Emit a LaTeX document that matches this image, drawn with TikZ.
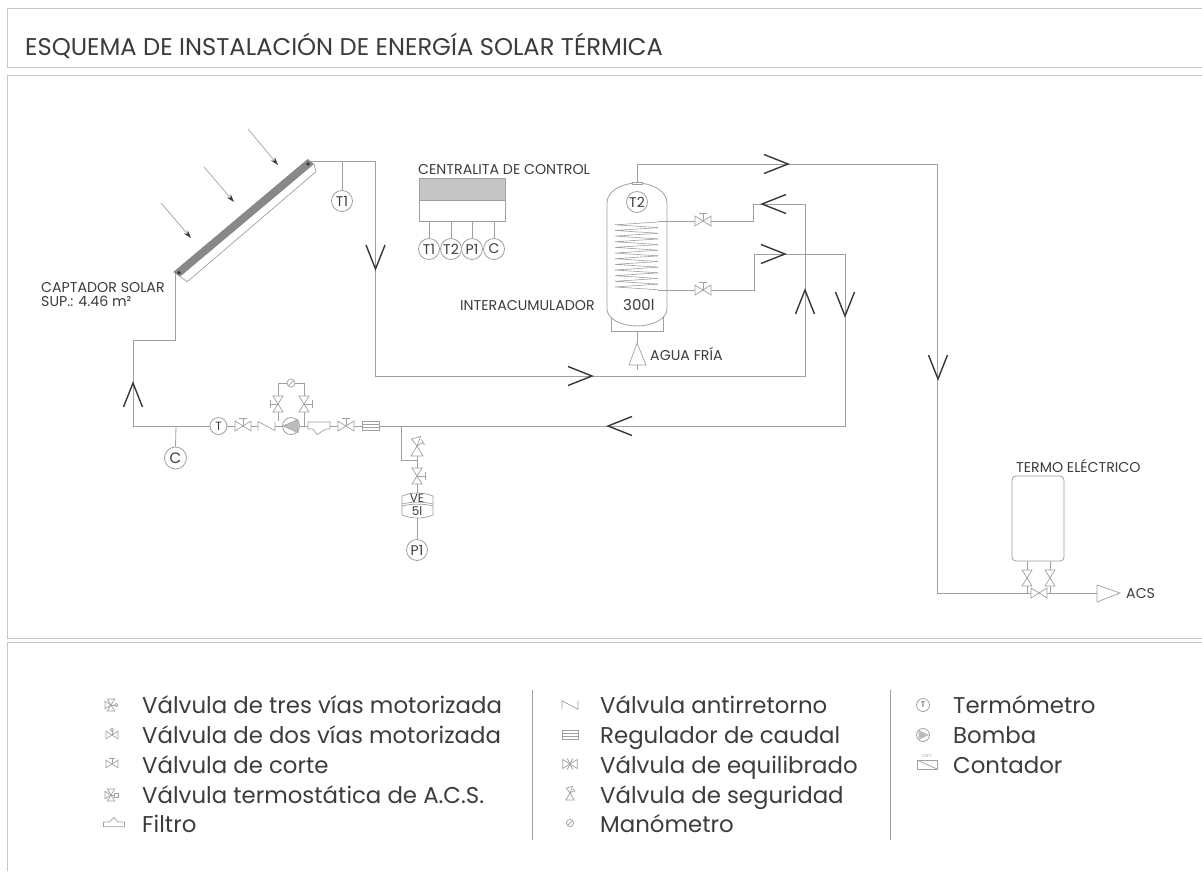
\documentclass[tikz,border=0pt]{standalone}
\usepackage{fontspec}
\setmainfont{Poppins}
\usetikzlibrary{arrows.meta}
\definecolor{frm}{HTML}{C6C6C6}
\definecolor{lin}{HTML}{A0A0A0}
\definecolor{dk}{HTML}{383838}
\definecolor{txt}{HTML}{3C3C3C}
\tikzset{
  x=1pt,y=-1pt,
  frame line/.style={draw=frm,line width=1pt},
  pipe/.style={draw=lin,line width=.8pt,line join=miter},
  sym/.style={draw=lin,line width=.7pt,fill=white,line join=miter},
  lab/.style={anchor=base west,inner sep=0pt,text=txt,font=\fontsize{14.2}{14.2}\selectfont},
  leg/.style={anchor=base west,inner sep=0pt,text=txt,font=\fontsize{22.85}{22.85}\selectfont},
  gauge/.style={circle,draw=lin,line width=.8pt,fill=white,inner sep=0pt,minimum size=21pt,text=txt,font=\fontsize{14}{14}\selectfont},
  chevron/.pic={\draw[draw=dk,line width=1.4pt,line join=miter] (-24,-9.5)--(0,0)--(-24,9.5);},
  bowtie/.pic={\draw[sym] (-8,-5)--(8,5)--(8,-5)--(-8,5)--cycle;},
  gatevalve/.pic={\draw[sym] (0,0)--(0,-8) (-4,-8)--(4,-8);\draw[sym] (-8,-5)--(8,5)--(8,-5)--(-8,5)--cycle;},
  checkvalve/.pic={\draw[draw=lin,line width=.7pt] (-8.5,4.5)--(-8.5,-4.5)--(8.5,4.5)--(8.5,-4.5);},
  safety/.pic={\draw[sym] (0,0)--(-6,10)--(6,10)--cycle;\draw[sym] (0,0)--(-5.5,-7)--(3.5,-9.5)--cycle;\draw[sym] (0,0)--(6,-3.5) (4.5,-6.5)--(7.5,-1);},
  threeway/.pic={\draw[sym] (-8,-5)--(0,0)--(-8,5)--cycle;\draw[sym] (-5,-8)--(5,-8)--(0,0)--cycle;\draw[sym] (-5,8)--(5,8)--(0,0)--cycle;\draw[sym] (0,0)--(5,0);\draw[sym] (7,0) circle (2.2);},
  twoway/.pic={\draw[sym] (-8,-5)--(8,5)--(8,-5)--(-8,5)--cycle;\draw[sym] (0,0)--(0,-5);\draw[sym] (0,-7) circle (2.2);},
  thermo/.pic={\draw[sym] (-8,-5)--(0,0)--(-8,5)--cycle;\draw[sym] (-5,-8)--(5,-8)--(0,0)--cycle;\draw[sym] (-5,8)--(5,8)--(0,0)--cycle;\draw[sym] (0,0)--(5,0);\draw[sym] (5,-2.5) rectangle (10,2.5);},
  filterp/.pic={\draw[sym] (-11,-3.5)--(11,-3.5)--(11,3.5)--(7,3.5)--(-2,9)--(-6,3.5)--(-11,3.5)--cycle;},
  filterleg/.pic={\draw[sym] (-11,5)--(-11,0)--(-5,0)--(0,-5)--(4,0)--(11,0)--(11,5)--cycle;},
  regul/.pic={\draw[sym] (-8.5,-4.5) rectangle (8.5,4.5);\draw[sym] (-8.5,-1.5)--(8.5,-1.5) (-8.5,1.5)--(8.5,1.5);},
  balance/.pic={\draw[sym] (-8,-5)--(8,5)--(8,-5)--(-8,5)--cycle;\draw[sym] (-3,-6)--(0,0)--(3,-6) (-3,6)--(0,0)--(3,6);},
  mano/.pic={\draw[sym] (0,0) circle (4);\draw[sym] (-2.8,2.8)--(2.8,-2.8);},
}
\begin{document}
\begin{tikzpicture}
\useasboundingbox (0,0) rectangle (1202,871);
\fill[white] (0,0) rectangle (1202,871);
% frames
\draw[frame line] (1202,8)--(7,8)--(7,67)--(1202,67);
\draw[frame line] (1202,75)--(7,75)--(7,638)--(1202,638);
\draw[frame line] (1202,642)--(7,642)--(7,871);
\node[anchor=base west,inner sep=0pt,text=txt,font=\fontsize{24.2}{24.2}\selectfont] (title) at (25,55) {ESQUEMA DE INSTALACIÓN DE ENERGÍA SOLAR TÉRMICA};

% junction coordinates
\coordinate (cBL) at (175,273);
\coordinate (cTR) at (310,161);
\coordinate (a1) at (175,340);
\coordinate (a2) at (133,340);
\coordinate (a3) at (133,426);
\coordinate (jC) at (176,426);
\coordinate (b1) at (375,161);
\coordinate (jT1) at (342,161);
\coordinate (b2) at (375,376);
\coordinate (b3) at (805,376);
\coordinate (b4) at (805,204);
\coordinate (b5) at (753,204);
\coordinate (b6) at (753,221);
\coordinate (b7) at (658,221);
\coordinate (d1) at (845,426);
\coordinate (d2) at (845,254);
\coordinate (d3) at (754,254);
\coordinate (d4) at (754,290);
\coordinate (d5) at (658,290);
\coordinate (jE) at (401,426);
\coordinate (e1) at (401,460);
\coordinate (e2) at (417,460);
\coordinate (e3) at (417,493);
\coordinate (e4) at (417,517);
\coordinate (cv1) at (258,426);
\coordinate (cv2) at (275,426);
\coordinate (p0) at (304,426);
\coordinate (p1) at (304,383);
\coordinate (p2) at (278,383);
\coordinate (p3) at (278,421);
\coordinate (tk) at (637,182);
\coordinate (f1) at (637,164);
\coordinate (f2) at (937,164);
\coordinate (f3) at (937,593);
\coordinate (acs) at (1097,593);
\coordinate (tb1) at (1027,561);
\coordinate (tb2) at (1050,561);
\coordinate (tj1) at (1027,593);
\coordinate (tj2) at (1050,593);

% gauges
\node[gauge] (gT1) at (342,201) {T1};
\node[gauge,minimum size=22pt,font=\fontsize{15}{15}\selectfont] (gC) at (175.5,458) {C};
\node[gauge,minimum size=17pt,font=\fontsize{12}{12}\selectfont] (gT) at (218.5,426) {T};
\node[gauge,minimum size=17pt] (pump) at (291,426) {};
\node[gauge] (gP1) at (417,550) {P1};
\node[gauge] (c1) at (429,249) {T1};
\node[gauge] (c2) at (451,249) {T2};
\node[gauge] (c3) at (472,249) {P1};
\node[gauge] (c4) at (494,249) {C};

% control unit
\node[draw=lin,line width=.8pt,fill=lin!60,minimum width=86pt,minimum height=22pt,inner sep=0pt] (ctlTop) at (462,189) {};
\node[draw=lin,line width=.8pt,fill=white,minimum width=86pt,minimum height=21pt,inner sep=0pt] (ctlBot) at (462,210.5) {};
\draw[pipe] (c1.north)--(c1.north|-ctlBot.south);
\draw[pipe] (c2.north)--(c2.north|-ctlBot.south);
\draw[pipe] (c3.north)--(c3.north|-ctlBot.south);
\draw[pipe] (c4.north)--(c4.north|-ctlBot.south);
\node[lab] (lCtl) at (418,174) {CENTRALITA DE CONTROL};

% pipes
\draw[pipe] (cBL)--(a1)--(a2)--(a3)--(gT.west);
\draw[pipe] (jC)--(gC.north);
\draw[pipe] (gT.east)--(cv1);
\draw[pipe] (cv2)--(pump.west);
\draw[pipe] (pump.east)--(d1)--(d2)--(d3)--(d4)--(d5);
\draw[pipe] (cTR)--(b1)--(b2)--(b3)--(b4)--(b5)--(b6)--(b7);
\draw[pipe] (jT1)--(gT1.north);
\draw[pipe] (jE)--(e1)--(e2)--(e3);
\draw[pipe] (e2)--(417,440);
\draw[pipe] (e4)--(gP1.north);
\draw[pipe] (p0)--(p1)--(p2)--(p3);
\draw[pipe] (tk)--(f1)--(f2)--(f3)--(acs);
\draw[pipe] (tb1)--(tj1);
\draw[pipe] (tb2)--(tj2);

% pump triangle
\fill[lin!70] (283,426)--(298,419.5)--(298,432.5)--cycle;
\draw[draw=lin,line width=.6pt] (283,426)--(298,419.5)--(298,432.5)--cycle;

% pipeline fittings
\pic at (243,426) {gatevalve};
\pic at (266.5,426) {checkvalve};
\pic at (319,425.5) {filterp};
\pic at (346,426) {gatevalve};
\pic at (370.5,425.5) {regul};
\pic[rotate=90] at (278,404) {gatevalve};
\pic[rotate=-90] at (304,404) {gatevalve};
\pic at (291,383) {mano};
\pic at (417,446) {safety};
\pic[rotate=-90] at (417,476) {gatevalve};
\pic at (703,221) {gatevalve};
\pic at (703,290) {gatevalve};

% expansion vessel
\draw[sym] (402,496) .. controls (412,492) and (423,492) .. (433,496) -- (433,515) .. controls (423,519) and (412,519) .. (402,515) -- cycle;
\draw[sym] (402,504) .. controls (412,501.5) and (423,501.5) .. (433,504);
\draw[sym,fill=none] (402,506) .. controls (412,503.5) and (423,503.5) .. (433,506);
\node[inner sep=0pt,text=txt,font=\fontsize{12}{12}\selectfont] (lVE) at (417,498) {VE};
\node[inner sep=0pt,text=txt,font=\fontsize{12}{12}\selectfont] (l5) at (417,511) {5l};

% collector
\draw[sym] (314,164)--(316,171.7)--(187.3,281.7)--(180,276.7);
\fill[lin!85!black] (307.7,159)--(314,164)--(180,276.7)--(173.3,272)--cycle;
\fill[dk] (179,272.7) circle (1.8);
\fill[dk] (308,164) circle (1.8);
\foreach \a/\b/\c/\d in {161/203/191/238,204/167/234/202,248/129/278/165}
  \draw[draw=lin,line width=.7pt,-{Stealth[length=8pt,width=5pt,color=dk]}] (\a,\b)--(\c,\d);
\node[lab] (lCap) at (41,292) {CAPTADOR SOLAR};
\node[lab] (lSup) at (41,306) {SUP.: 4.46 m²};

% storage tank
\draw[pipe,fill=white] (611,317)--(611,331)--(663,331)--(663,317);
\draw[pipe] (637,331)--(637,343);
\draw[sym] (637,343)--(629,365)--(646,365)--cycle;
\draw[pipe] (637,365)--(637,370);
\draw[draw=lin,line width=.8pt] (607,203) .. controls (607,191) and (622,183) .. (637,183) .. controls (652,183) and (667,191) .. (667,203) -- (667,309) .. controls (667,319) and (652,326) .. (637,326) .. controls (622,326) and (607,319) .. (607,309) -- cycle;
\draw[sym] (632,182) rectangle (642,184.5);
\node[gauge] (gT2) at (637,202) {T2};
\foreach \i in {0,...,11}
  \draw[draw=lin,line width=.6pt] (658,{222+5.65*\i})--(615,{224.8+5.65*\i})--(658,{227.6+5.65*\i});
\node[lab] (lInt) at (460,310) {INTERACUMULADOR};
\node[lab,font=\fontsize{15}{15}\selectfont] (l300) at (623,310) {300l};
\node[lab] (lAgua) at (650,360) {AGUA FRÍA};

% electric heater
\node[draw=lin,line width=.8pt,rounded corners=4pt,fill=white,minimum width=52pt,minimum height=85pt,inner sep=0pt] (termo) at (1038,518.5) {};
\pic[rotate=90] at (1027,578) {bowtie};
\pic[rotate=90] at (1050,578) {bowtie};
\pic at (1039,593) {bowtie};
\draw[sym] (acs)--(1097,585)--(1120,593)--(1097,602)--cycle;
\node[lab] (lTer) at (1016,472) {TERMO ELÉCTRICO};
\node[lab] (lAcs) at (1126,598) {ACS};

% flow chevrons
\pic[rotate=-90] at (375.5,269) {chevron};
\pic at (592,376) {chevron};
\pic[rotate=90] at (805,290) {chevron};
\pic[rotate=-90] at (845,316) {chevron};
\pic[rotate=180] at (608,426) {chevron};
\pic at (788,164) {chevron};
\pic at (785,254) {chevron};
\pic[rotate=180] at (762,204) {chevron};
\pic[rotate=-90] at (938,379) {chevron};
\pic[rotate=90] at (133,383) {chevron};

% legend dividers
\coordinate (dv1t) at (532,690);\coordinate (dv1b) at (532,840);
\coordinate (dv2t) at (890,690);\coordinate (dv2b) at (890,840);
\draw[draw=lin,line width=.8pt] (dv1t)--(dv1b);
\draw[draw=lin,line width=.8pt] (dv2t)--(dv2b);

% legend column 1
\pic[scale=.75] at (111,705) {threeway};
\pic[scale=.75] at (112,735) {twoway};
\pic[scale=.75] at (112,764) {gatevalve};
\pic[scale=.75] at (111,795) {thermo};
\pic[scale=.95] at (114,822) {filterleg};
\node[leg] (t1) at (142,713) {Válvula de tres vías motorizada};
\node[leg] (t2) at (142,743) {Válvula de dos vías motorizada};
\node[leg] (t3) at (142,773) {Válvula de corte};
\node[leg] (t4) at (142,803) {Válvula termostática de A.C.S.};
\node[leg] (t5) at (142,832) {Filtro};

% legend column 2
\pic[scale=.95] at (570,705) {checkvalve};
\pic[scale=.95] at (570,735) {regul};
\pic[scale=.9] at (570,764) {balance};
\pic[scale=.7] at (570,793) {safety};
\pic[scale=.9] at (570,823) {mano};
\node[leg] (m1) at (600,713) {Válvula antirretorno};
\node[leg] (m2) at (600,743) {Regulador de caudal};
\node[leg] (m3) at (600,773) {Válvula de equilibrado};
\node[leg] (m4) at (600,803) {Válvula de seguridad};
\node[leg] (m5) at (600,832) {Manómetro};

% legend column 3
\node[gauge,minimum size=13pt,font=\fontsize{8}{8}\selectfont] (s1) at (923,705) {T};
\node[gauge,minimum size=13pt] (s2) at (923,735) {};
\fill[lin!70] (918.5,730)--(929,735)--(918.5,740)--cycle;
\draw[sym] (917,760) rectangle (937,769);
\draw[sym] (917,760)--(937,769);
\node[inner sep=0pt,text=lin,font=\fontsize{4.5}{4.5}\selectfont] (s3) at (927,756) {CAC};
\node[leg] (r1) at (953,713) {Termómetro};
\node[leg] (r2) at (953,743) {Bomba};
\node[leg] (r3) at (953,773) {Contador};
\end{tikzpicture}
\end{document}
